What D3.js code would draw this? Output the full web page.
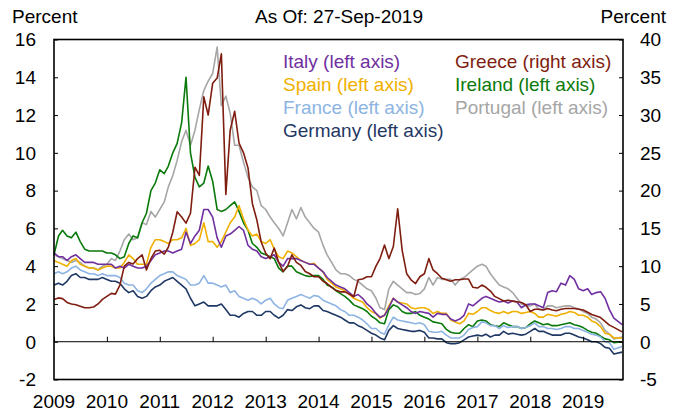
<!DOCTYPE html>
<html>
<head>
<meta charset="utf-8">
<script src="https://cdn.jsdelivr.net/npm/d3@7"></script>
<style>
  body { margin: 0; background: #fff; }
  text { font-family: "Liberation Sans", Arial, sans-serif; }
</style>
</head>
<body>
<script>
// monthly readings, Jan 2009 .. Aug 2019, last value = 27-Sep-2019
const germany = [
  3.0, 3.1, 3.0, 3.2, 3.5, 3.6, 3.4, 3.4, 3.3, 3.3, 3.3, 3.4,
  3.3, 3.2, 3.2, 3.1, 2.8, 2.6, 2.7, 2.4, 2.3, 2.4, 2.7, 2.9,
  3.0, 3.2, 3.3, 3.4, 3.2, 3.0, 2.8, 2.3, 1.9, 2.0, 2.1, 1.9,
  1.9, 1.9, 2.0, 1.7, 1.4, 1.4, 1.3, 1.5, 1.6, 1.6, 1.4, 1.4,
  1.6, 1.6, 1.4, 1.25, 1.4, 1.7, 1.65, 1.85, 1.95, 1.8, 1.75, 1.9,
  1.9, 1.65, 1.6, 1.5, 1.4, 1.3, 1.15, 1.0, 1.0, 0.85, 0.75, 0.6,
  0.45, 0.35, 0.2, 0.1, 0.6, 0.85, 0.7, 0.65, 0.6, 0.55, 0.55, 0.6,
  0.5, 0.2, 0.2, 0.15, 0.15, -0.05, -0.1, -0.1, -0.05, 0.1, 0.25, 0.3,
  0.35, 0.3, 0.4, 0.25, 0.35, 0.35, 0.55, 0.4, 0.45, 0.4, 0.35, 0.4,
  0.55, 0.7, 0.55, 0.55, 0.45, 0.35, 0.35, 0.35, 0.45, 0.45, 0.35, 0.25,
  0.2, 0.1, 0.0, 0.0, -0.1, -0.3, -0.35, -0.65, -0.55
];
const france = [
  3.6, 3.7, 3.6, 3.7, 3.9, 4.0, 3.8, 3.7, 3.6, 3.6, 3.5, 3.6,
  3.5, 3.5, 3.5, 3.4, 3.1, 3.0, 3.0, 2.7, 2.6, 2.8, 3.1, 3.3,
  3.5, 3.6, 3.7, 3.7, 3.5, 3.4, 3.3, 3.0, 3.0, 3.1, 3.5, 3.1,
  3.1, 3.0, 2.9, 3.0, 2.6, 2.7, 2.4, 2.3, 2.2, 2.3, 2.2, 2.0,
  2.2, 2.3, 2.0, 1.8, 1.75, 2.2, 2.3, 2.4, 2.5, 2.4, 2.3, 2.45,
  2.4, 2.2, 2.1, 2.0, 1.9, 1.7, 1.6, 1.4, 1.4, 1.3, 1.15, 0.95,
  0.7, 0.7, 0.5, 0.4, 0.9, 1.3, 1.15, 1.1, 1.05, 1.0, 0.95, 1.0,
  0.9, 0.55, 0.5, 0.5, 0.55, 0.35, 0.2, 0.2, 0.2, 0.35, 0.65, 0.75,
  0.8, 1.05, 1.0, 0.85, 0.85, 0.7, 0.85, 0.75, 0.8, 0.8, 0.7, 0.75,
  0.85, 1.0, 0.8, 0.8, 0.7, 0.7, 0.65, 0.7, 0.8, 0.8, 0.7, 0.7,
  0.6, 0.5, 0.4, 0.35, 0.25, 0.0, -0.05, -0.4, -0.25
];
const italy = [
  4.7, 4.5, 4.5, 4.3, 4.5, 4.6, 4.4, 4.2, 4.2, 4.2, 4.1, 4.1,
  4.1, 4.1, 3.9, 4.0, 3.9, 4.1, 4.0, 3.9, 3.9, 4.0, 4.3, 4.6,
  4.7, 4.8, 4.8, 4.7, 4.8, 4.9, 5.8, 5.2, 5.6, 5.9, 7.0, 7.0,
  6.6, 5.5, 5.0, 5.6, 5.7, 5.9, 6.1, 5.9, 5.1, 4.9, 4.8, 4.5,
  4.4, 4.5, 4.6, 4.2, 4.0, 4.4, 4.4, 4.4, 4.3, 4.2, 4.1, 4.1,
  3.9, 3.7, 3.4, 3.2, 3.0, 2.9, 2.8, 2.6, 2.4, 2.5, 2.3, 2.0,
  1.8, 1.5, 1.3, 1.4, 1.8, 2.3, 2.1, 1.95, 1.8, 1.6, 1.5, 1.6,
  1.55, 1.5, 1.3, 1.5, 1.45, 1.45, 1.2, 1.1, 1.2, 1.4, 2.0, 1.9,
  2.1, 2.3, 2.4, 2.3, 2.2, 2.1, 2.15, 2.05, 2.15, 2.1, 1.8, 1.95,
  2.0, 2.0, 1.9, 1.8, 2.6, 2.7, 2.65, 3.1, 3.0, 3.5, 3.3, 2.8,
  2.7, 2.8, 2.5, 2.6, 2.65, 2.3, 1.7, 1.25, 0.9
];
const spain = [
  4.3, 4.2, 4.1, 4.0, 4.3, 4.4, 4.1, 4.0, 3.9, 3.9, 3.8, 3.9,
  4.0, 4.0, 3.9, 3.9, 4.2, 4.6, 4.4, 4.1, 4.1, 4.1, 5.0, 5.4,
  5.4, 5.3, 5.2, 5.4, 5.4, 5.5, 6.0, 5.1, 5.2, 5.4, 6.3, 5.3,
  5.3, 5.0, 5.3, 5.8, 6.3, 6.6, 7.2, 6.5, 5.9, 5.6, 5.7, 5.3,
  5.2, 5.4, 4.9, 4.5, 4.4, 4.8, 4.7, 4.5, 4.3, 4.2, 4.1, 4.15,
  3.9, 3.7, 3.3, 3.1, 2.9, 2.8, 2.7, 2.5, 2.3, 2.2, 2.1, 1.8,
  1.6, 1.5, 1.25, 1.4, 1.9, 2.3, 2.1, 2.05, 2.0, 1.8, 1.75, 1.8,
  1.8, 1.7, 1.5, 1.6, 1.5, 1.5, 1.15, 1.05, 0.95, 1.1, 1.5, 1.45,
  1.6, 1.8, 1.8, 1.65, 1.55, 1.5, 1.6, 1.5, 1.6, 1.6, 1.5, 1.55,
  1.6, 1.5, 1.3, 1.3, 1.45, 1.4, 1.35, 1.45, 1.5, 1.6, 1.55, 1.4,
  1.4, 1.3, 1.1, 1.0, 0.8, 0.45, 0.4, 0.2, 0.2
];
const ireland = [
  4.6, 5.6, 5.9, 5.6, 5.5, 5.8, 5.3, 4.9, 4.8, 4.8, 4.8, 4.8,
  4.7, 4.7, 4.6, 4.4, 4.5, 5.2, 5.6, 5.5, 6.3, 6.8, 8.0, 8.4,
  9.1, 8.9, 9.3, 10.0, 10.5, 11.6, 14.0, 10.0, 8.7, 8.2, 8.4, 9.3,
  8.5, 7.0, 6.9, 7.0, 7.2, 7.4, 6.9, 6.3, 5.9, 5.2, 5.0, 4.7,
  4.6, 4.5, 4.4, 3.9, 3.7, 4.0, 4.0, 3.7, 3.6, 3.5, 3.45, 3.5,
  3.5, 3.3, 3.0, 2.9, 2.7, 2.55, 2.4, 2.2, 1.95, 1.85, 1.75, 1.6,
  1.35, 1.2, 1.0, 0.95, 1.7, 1.95, 1.85, 1.6, 1.5, 1.5, 1.6, 1.4,
  1.3, 1.2, 1.05, 1.0, 0.95, 0.65, 0.5, 0.45, 0.45, 0.7, 0.9, 0.8,
  1.1, 1.15, 1.1, 0.9, 0.85, 0.8, 1.0, 0.9, 0.8, 0.8, 0.7, 0.75,
  0.95, 1.1, 1.0, 0.9, 0.95, 0.85, 0.85, 0.9, 0.95, 1.0, 0.9, 0.85,
  0.75, 0.6, 0.5, 0.45, 0.3, 0.15, 0.1, -0.05, 0.0
];
const portugal = [
  4.6, 4.5, 4.4, 4.3, 4.2, 4.3, 4.2, 4.0, 3.9, 3.9, 3.8, 4.0,
  4.1, 4.4, 4.3, 4.8, 5.4, 5.7, 5.4, 5.5, 6.3, 6.2, 6.9, 6.6,
  7.0, 7.4, 8.2, 8.8, 9.6, 10.6, 11.2, 10.4, 11.2, 12.3, 13.3, 13.8,
  14.2, 15.6, 12.5, 13.0, 12.1, 10.4, 10.4, 9.5, 8.7, 8.2, 8.0, 7.2,
  7.0, 6.6, 6.3, 6.0, 5.6, 6.3, 7.0, 6.5, 7.1, 6.6, 6.3, 6.0,
  5.8, 5.1, 4.6, 4.2, 3.8, 3.6, 3.6, 3.5, 3.3, 3.2, 3.0, 2.8,
  2.7, 2.3, 1.8, 1.7, 2.8, 3.2, 3.0, 2.8, 2.6, 2.6, 2.5, 2.55,
  2.8, 3.4, 3.0, 3.4, 3.3, 3.3, 3.3, 3.0, 3.3, 3.4, 3.6, 3.8,
  4.0, 4.1, 4.0, 3.6, 3.3, 3.0, 2.9, 2.8, 2.6, 2.3, 2.0, 1.9,
  1.9, 2.0, 1.7, 1.7, 1.9, 1.9, 1.8, 1.85, 1.9, 1.9, 1.8, 1.75,
  1.6, 1.5, 1.3, 1.2, 1.0, 0.6, 0.4, 0.15, 0.25
];
// right axis
const greece = [
  5.6, 5.8, 5.7, 5.2, 5.0, 4.9, 4.7, 4.5, 4.5, 4.6, 5.0, 5.6,
  6.0, 6.4, 6.3, 7.5, 10.0, 10.5, 10.3, 11.0, 11.5, 9.5, 11.0, 12.0,
  12.1, 11.6, 12.5, 14.5, 17.2, 16.5, 15.7, 17.0, 23.1, 22.0, 32.4, 30.0,
  34.2, 34.9, 38.1, 19.5, 28.0, 30.5, 26.3, 25.0, 23.0, 18.3, 16.1, 13.2,
  11.7, 11.0, 12.4, 10.5, 9.3, 10.0, 11.5, 10.5, 10.1, 9.3, 9.0, 8.6,
  8.6, 8.0, 7.7, 7.2, 6.8, 6.6, 6.6, 6.3, 5.95, 8.2, 8.3, 8.6,
  8.6, 10.0, 11.0, 12.8, 11.0, 12.6, 17.6, 12.1, 9.0, 8.2, 7.7, 8.6,
  9.0, 11.0, 9.5, 9.0, 8.4, 8.2, 8.0, 8.2, 8.2, 8.3, 8.3, 7.2,
  7.1, 7.5, 7.2, 6.7, 6.0, 5.7, 5.4, 5.5, 5.4, 5.3, 5.2, 4.9,
  4.0, 4.3, 4.3, 4.2, 4.4, 4.2, 4.1, 4.3, 4.4, 4.4, 4.4, 4.3,
  4.2, 3.9, 3.6, 3.4, 3.2, 2.7, 2.2, 1.9, 1.3
];

const leftTicks = [-2, 0, 2, 4, 6, 8, 10, 12, 14, 16];
const rightTicks = [-5, 0, 5, 10, 15, 20, 25, 30, 35, 40];
const years = [2009, 2010, 2011, 2012, 2013, 2014, 2015, 2016, 2017, 2018, 2019];

const dates = d3.timeMonth.range(new Date(2009, 0, 1), new Date(2019, 8, 1));
dates.push(new Date(2019, 8, 27));

const W = 674, H = 412;
const pLeft = 54, pRight = 623, pTop = 39.5, pBottom = 379.5;

const svg = d3.select("body").append("svg")
    .attr("width", W)
    .attr("height", H);

const x = d3.scaleTime()
    .domain([new Date(2009, 0, 1), new Date(2019, 9, 3)])
    .range([pLeft, pRight]);
const y = d3.scaleLinear().domain([-2, 16]).range([pBottom, pTop]);
const yR = d3.scaleLinear().domain([-5, 40]).range([pBottom, pTop]);

const fs = 19;

// series
const series = [
    { data: portugal, color: "#a6a6a6", scale: y },
    { data: ireland, color: "#0a7a0a", scale: y },
    { data: france, color: "#8db4e2", scale: y },
    { data: germany, color: "#1f3864", scale: y },
    { data: spain, color: "#f0b000", scale: y },
    { data: italy, color: "#7030a0", scale: y },
    { data: greece, color: "#7f1d10", scale: yR }
];

series.forEach(function(s) {
    const line = d3.line()
        .x((d, i) => x(dates[i]))
        .y(d => s.scale(d));
    svg.append("path")
        .datum(s.data)
        .attr("fill", "none")
        .attr("stroke", s.color)
        .attr("stroke-width", 1.6)
        .attr("stroke-linejoin", "round")
        .attr("d", line);
});

// zero line with year ticks
svg.append("line")
    .attr("x1", pLeft).attr("x2", pRight)
    .attr("y1", y(0)).attr("y2", y(0))
    .attr("stroke", "#000").attr("stroke-width", 1);

svg.append("g")
    .attr("transform", `translate(0,${y(0)})`)
    .call(d3.axisTop(x)
        .tickValues(years.map(yr => new Date(yr, 0, 1)))
        .tickSize(5)
        .tickFormat(""))
    .call(g => g.select(".domain").remove());

// year labels along bottom
svg.append("g").selectAll("text")
    .data(years)
    .enter().append("text")
    .attr("x", d => x(new Date(d, 0, 1)))
    .attr("y", 408)
    .attr("text-anchor", "middle")
    .attr("font-size", fs)
    .text(d => d);

// left axis
svg.append("g")
    .attr("transform", `translate(${pLeft},0)`)
    .call(d3.axisRight(y).tickValues(leftTicks).tickSize(4).tickFormat(""))
    .call(g => g.select(".domain").remove());
svg.append("g").selectAll("text")
    .data(leftTicks)
    .enter().append("text")
    .attr("x", 36)
    .attr("y", d => y(d))
    .attr("dy", "0.36em")
    .attr("text-anchor", "end")
    .attr("font-size", fs)
    .text(d => d);

// right axis
svg.append("g")
    .attr("transform", `translate(${pRight},0)`)
    .call(d3.axisLeft(yR).tickValues(rightTicks).tickSize(4).tickFormat(""))
    .call(g => g.select(".domain").remove());
svg.append("g").selectAll("text")
    .data(rightTicks)
    .enter().append("text")
    .attr("x", 640)
    .attr("y", d => yR(d))
    .attr("dy", "0.36em")
    .attr("font-size", fs)
    .text(d => d);

// frame
svg.append("rect")
    .attr("x", pLeft).attr("y", pTop)
    .attr("width", pRight - pLeft).attr("height", pBottom - pTop)
    .attr("fill", "none")
    .attr("stroke", "#000")
    .attr("stroke-width", 1.6);

// headers
svg.append("text").attr("x", 12).attr("y", 23).attr("font-size", fs).text("Percent");
svg.append("text").attr("x", 666).attr("y", 23).attr("font-size", fs)
    .attr("text-anchor", "end").text("Percent");
svg.append("text").attr("x", 339).attr("y", 23).attr("font-size", fs)
    .attr("text-anchor", "middle").text("As Of: 27-Sep-2019");

// legend
const legendItems = [
    { label: "Italy (left axis)", color: "#7030a0", x: 283, y: 68 },
    { label: "Spain (left axis)", color: "#f0b000", x: 283, y: 91 },
    { label: "France (left axis)", color: "#8db4e2", x: 283, y: 114 },
    { label: "Germany (left axis)", color: "#1f3864", x: 283, y: 137 },
    { label: "Greece (right axis)", color: "#7f1d10", x: 455, y: 68 },
    { label: "Ireland (left axis)", color: "#0a7a0a", x: 455, y: 91 },
    { label: "Portugal (left axis)", color: "#a6a6a6", x: 455, y: 114 }
];
svg.append("g").selectAll("text")
    .data(legendItems)
    .enter().append("text")
    .attr("x", d => d.x)
    .attr("y", d => d.y)
    .attr("font-size", fs)
    .attr("fill", d => d.color)
    .text(d => d.label);
</script>
</body>
</html>
